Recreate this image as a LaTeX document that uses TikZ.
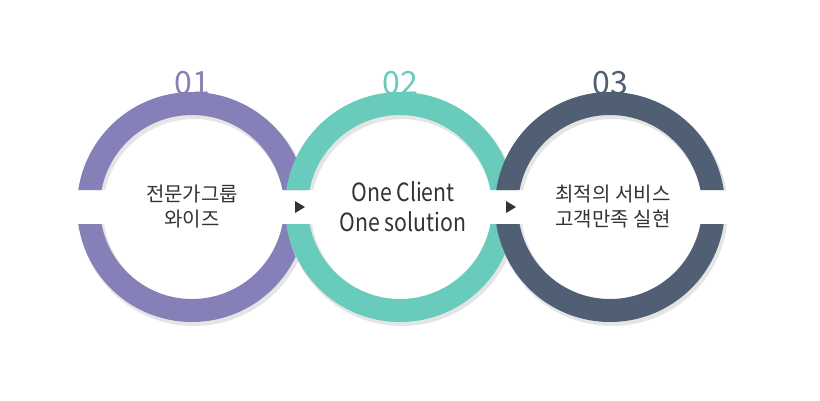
\documentclass[tikz,border=0pt]{standalone}
\usepackage{fontspec}
\setmainfont{Noto Sans CJK KR}
\definecolor{cA}{HTML}{8680B8}
\definecolor{cB}{HTML}{68CBBB}
\definecolor{cC}{HTML}{505F74}
\definecolor{tx}{HTML}{333333}
\begin{document}
\begin{tikzpicture}[x=1pt,y=-1pt,
  lbl/.style={text=tx,font=\fontsize{20}{25}\selectfont,align=center},
  num/.style={font=\fontsize{32}{32}\selectfont},
  tri/.style={fill=black!80}]
\useasboundingbox (0,0) rectangle (820,400);
\newcommand\myring[3]{%
  \begin{scope}
  \clip (#1-140,#2-17) rectangle (#1+140,#2-140) (#1-140,#2+17) rectangle (#1+140,#2+140);
  \fill[black!10,even odd rule] (#1+2,#2+3) circle (116) (#1+2,#2+3) circle (91);
  \fill[#3,even odd rule] (#1,#2) circle (115) (#1,#2) circle (92);
  \end{scope}}
\node[num,text=cA] (n1) at (192,83) {01};
\node[num,text=cB] (n2) at (400,83) {02};
\node[num,text=cC] (n3) at (610,83) {03};
\myring{192}{207}{cA}
\myring{400}{207}{cB}
\myring{610}{207}{cC}
\node[lbl] (t1) at (192,207) {전문가그룹\\와이즈};
\node[lbl,font=\fontsize{25}{30}\selectfont] (t2) at (403,207) {\addfontfeature{FakeStretch=0.85}One Client\\\addfontfeature{FakeStretch=0.85}One solution};
\node[lbl] (t3) at (613,207) {최적의 서비스\\고객만족 실현};
\fill[tri] (295,201) -- (305,207) -- (295,213) -- cycle;
\fill[tri] (506,201) -- (516,207) -- (506,213) -- cycle;
\end{tikzpicture}
\end{document}
